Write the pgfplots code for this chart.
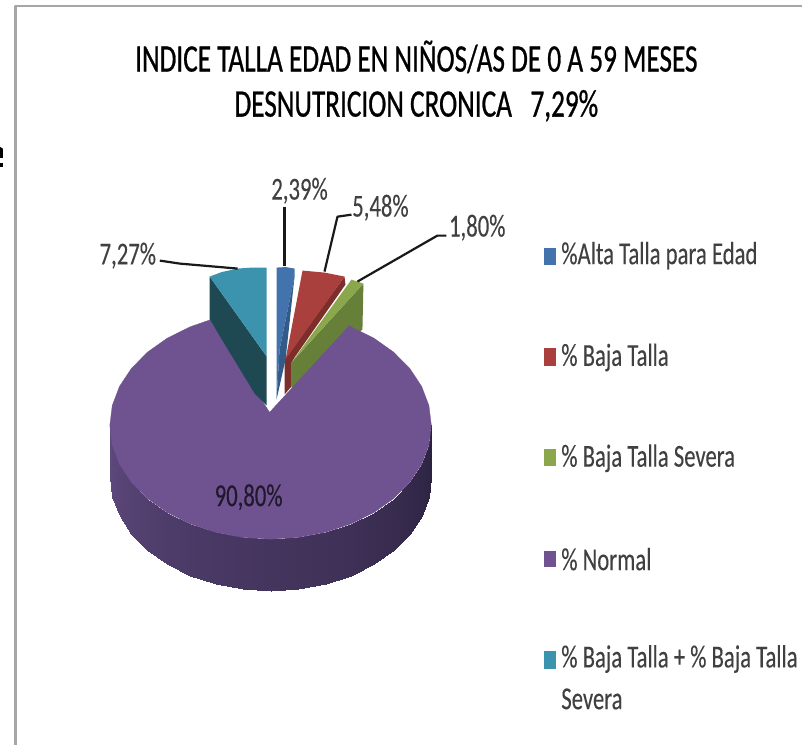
\documentclass[border=0pt]{standalone}
\usepackage{pgfplots}
\pgfplotsset{compat=1.18}
\usepackage{fontspec}
\setmainfont{Carlito}
\newfontfamily\ttl[FakeStretch=0.70,FakeBold=0.7]{Carlito}
\newfontfamily\nar[FakeStretch=0.71,FakeBold=0.2]{Carlito}
\definecolor{cblue}{HTML}{4273AD}
\definecolor{cblued}{HTML}{335B8A}
\definecolor{cred}{HTML}{A9403D}
\definecolor{credd}{HTML}{7D2E2B}
\definecolor{cgreen}{HTML}{8AA84B}
\definecolor{cgreend}{HTML}{66803A}
\definecolor{cpurple}{HTML}{6F5290}
\definecolor{cteal}{HTML}{3B93AD}
\definecolor{cteald}{HTML}{1E4852}
\definecolor{ctext}{HTML}{404040}
\definecolor{cframe}{HTML}{A6A6A6}
\pgfplotstableread{
x y c
432.0 426.0 0
429.6 445.8 10
422.3 465.0 20
410.4 483.0 30
394.3 499.3 40
374.5 513.3 50
351.5 524.7 60
326.1 533.1 70
298.9 538.3 80
271.0 540.0 90
243.1 538.3 100
215.9 533.1 110
190.5 524.7 120
167.5 513.3 130
147.7 499.3 140
131.6 483.0 150
119.7 465.0 160
112.4 445.8 170
110.0 426.0 180
432.0 478.0 0
429.6 497.8 10
422.3 517.0 20
410.4 535.0 30
394.3 551.3 40
374.5 565.3 50
351.5 576.7 60
326.1 585.1 70
298.9 590.3 80
271.0 592.0 90
243.1 590.3 100
215.9 585.1 110
190.5 576.7 120
167.5 565.3 130
147.7 551.3 140
131.6 535.0 150
119.7 517.0 160
112.4 497.8 170
110.0 478.0 180
}\sidetable
\begin{document}
\begin{tikzpicture}
\begin{axis}[
  width=803pt,height=746pt,scale only axis,
  hide axis,clip=false,
  xmin=0,xmax=803,ymin=0,ymax=746,y dir=reverse,
  colormap={side}{rgb255=(43,34,64) rgb255=(62,48,86) rgb255=(74,58,102) rgb255=(95,74,126)},
  every axis plot/.append style={line join=round},
]
% page background, fixes the picture's extent
\addplot[fill=white,draw=none] coordinates {(0,0) (803,0) (803,746) (0,746)} -- cycle;
% frame
\addplot[cframe,line width=2.5pt] coordinates {(15.5,746) (15.5,6) (803,6)};
% fragment of a cropped letter at the left edge
\addplot[fill=black,draw=none] coordinates {(0,147) (3,149) (3,158) (0,158)} -- cycle;
\addplot[fill=black,draw=none] coordinates {(0,163) (3,163) (3,167) (0,167)} -- cycle;
% purple side
\addplot[surf,shader=interp,mesh/rows=2,mesh/cols=19,point meta=\thisrow{c}] table[x=x,y=y] {\sidetable};
% green side (behind purple)
\addplot[fill=cgreend,draw=none] coordinates {(364,284) (363,330) (345,345) (292,395) (292,363)} -- cycle;
% purple top
\addplot[fill=cpurple,draw=cpurple,line width=0.3pt] coordinates {
(270,413) (350,326) (351.5,327.3) (374.5,338.7) (394.3,352.7) (410.4,369) (422.3,387) (429.6,406.2)
(432,426) (429.6,445.8) (422.3,465) (410.4,483) (394.3,499.3) (374.5,513.3) (351.5,524.7) (326.1,533.1) (298.9,538.3)
(271,540) (243.1,538.3) (215.9,533.1) (190.5,524.7) (167.5,513.3) (147.7,499.3) (131.6,483) (119.7,465) (112.4,445.8)
(110,426) (112.4,406.2) (119.7,387) (131.6,369) (147.7,352.7) (167.5,338.7) (190.5,327.3) (210,320.5)} -- cycle;
% green top
\addplot[fill=cgreen,draw=none] coordinates {(352,280) (364,284) (292,363)} -- cycle;
% red
\addplot[fill=credd,draw=none] coordinates {(345,277) (346,285) (295,358) (292,363) (292,387) (285,395) (285,360)} -- cycle;
\addplot[fill=cred,draw=none] coordinates {(303,271) (325,273) (345,277) (286,360)} -- cycle;
% blue
\addplot[fill=cblue,draw=none] coordinates {(277,268) (286,267.5) (295,269) (295,277) (280,350) (277,400)} -- cycle;
\addplot[fill=cblued,draw=none] coordinates {(295,277) (286,360) (277,400) (280,350)} -- cycle;
% teal
\addplot[fill=cteald,draw=none] coordinates {(210,277) (210,320) (255,394) (267,406) (267,357)} -- cycle;
\addplot[fill=cteal,draw=none] coordinates {(210,277) (222,272.5) (238,269) (252,268) (267,268) (267,357)} -- cycle;
% leaders
\addplot[black!90,line width=2.2pt] coordinates {(285,207) (285,266)};
\addplot[black!90,line width=2.2pt] coordinates {(352,215) (338,217) (325,272)};
\addplot[black!90,line width=2.2pt] coordinates {(447,236) (438,236) (358,282)};
\addplot[black!90,line width=2.2pt] coordinates {(160,261) (180,264) (238,269)};
% legend swatches
\addplot[fill=cblue,draw=none] coordinates {(545,248) (557,248) (557,265) (545,265)} -- cycle;
\addplot[fill=cred,draw=none] coordinates {(545,349) (557,349) (557,367) (545,367)} -- cycle;
\addplot[fill=cgreen,draw=none] coordinates {(545,450) (557,450) (557,467) (545,467)} -- cycle;
\addplot[fill=cpurple,draw=none] coordinates {(545,552) (557,552) (557,568) (545,568)} -- cycle;
\addplot[fill=cteal,draw=none] coordinates {(545,652) (557,652) (557,670) (545,670)} -- cycle;
% texts
\node[font=\ttl\fontsize{39}{39}\selectfont,text=black] at (axis cs:417,57) {INDICE TALLA EDAD EN NIÑOS/AS DE 0 A 59 MESES};
\node[font=\ttl\fontsize{39}{39}\selectfont,text=black] at (axis cs:417,106) {DESNUTRICION CRONICA\ \ \ 7,29\%};
\node[font=\nar\fontsize{32}{32}\selectfont,text=ctext] at (axis cs:300,191) {2,39\%};
\node[font=\nar\fontsize{32}{32}\selectfont,text=ctext] at (axis cs:381,208) {5,48\%};
\node[font=\nar\fontsize{32}{32}\selectfont,text=ctext] at (axis cs:478,228) {1,80\%};
\node[font=\nar\fontsize{32}{32}\selectfont,text=ctext] at (axis cs:128,256) {7,27\%};
\node[font=\nar\fontsize{32}{32}\selectfont,text={black!70!cpurple}] at (axis cs:249,498) {90,80\%};
\node[anchor=west,inner sep=0pt,font=\nar\fontsize{32}{32}\selectfont,text=ctext] at (axis cs:562,256) {\%Alta Talla para Edad};
\node[anchor=west,inner sep=0pt,font=\nar\fontsize{32}{32}\selectfont,text=ctext] at (axis cs:562,358) {\% Baja Talla};
\node[anchor=west,inner sep=0pt,font=\nar\fontsize{32}{32}\selectfont,text=ctext] at (axis cs:562,459) {\% Baja Talla Severa};
\node[anchor=west,inner sep=0pt,font=\nar\fontsize{32}{32}\selectfont,text=ctext] at (axis cs:562,560) {\% Normal};
\node[anchor=west,inner sep=0pt,font=\nar\fontsize{32}{32}\selectfont,text=ctext] at (axis cs:562,660) {\% Baja Talla + \% Baja Talla};
\node[anchor=west,inner sep=0pt,font=\nar\fontsize{32}{32}\selectfont,text=ctext] at (axis cs:562,700) {Severa};
\end{axis}
\end{tikzpicture}
\end{document}
